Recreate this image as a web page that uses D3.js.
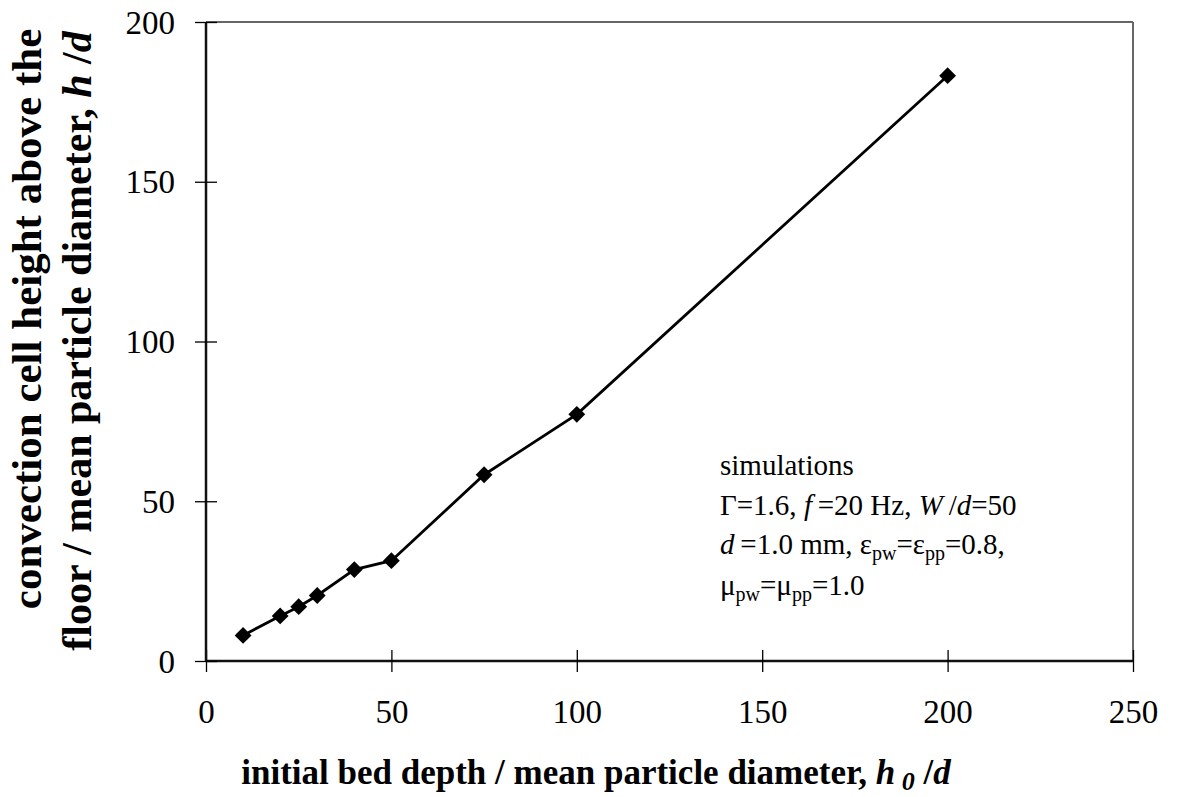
<!DOCTYPE html>
<html>
<head>
<meta charset="utf-8">
<script src="https://cdn.jsdelivr.net/npm/d3@7"></script>
<style>
  body { margin: 0; background: #fff; }
  svg text { font-family: "Liberation Serif", "Times New Roman", serif; fill: #000; }
</style>
</head>
<body>
<svg id="chart"></svg>
<script>
// data
var bedDepth = [10, 20, 25, 30, 40, 50, 75, 100, 200];
var cellHeight = [8, 14.1, 17, 20.5, 28.6, 31.4, 58.3, 77.2, 183.2];
var xTicks = [0, 50, 100, 150, 200, 250];
var yTicks = [0, 50, 100, 150, 200];
var noteLines = ["simulations"];

var width = 1179;
var height = 797;
var mLeft = 206, mRight = 1133, mTop = 22, mBottom = 661;

var svg = d3.select("#chart")
  .attr("width", width)
  .attr("height", height);

var xScale = d3.scaleLinear().domain([0, 250]).range([mLeft, mRight]);
var yScale = d3.scaleLinear().domain([0, 200]).range([mBottom, mTop]);

// frame: top and right lighter
svg.append("line")
  .attr("x1", mLeft).attr("x2", mRight).attr("y1", mTop).attr("y2", mTop)
  .attr("stroke", "#666").attr("stroke-width", 2);
svg.append("line")
  .attr("x1", mRight).attr("x2", mRight).attr("y1", mTop).attr("y2", mBottom)
  .attr("stroke", "#666").attr("stroke-width", 2);

// axes
var xAxis = svg.append("g")
  .attr("transform", "translate(0," + mBottom + ")")
  .call(d3.axisBottom(xScale).tickValues(xTicks).tickSize(11).tickPadding(20).tickFormat(d3.format("d")));
var yAxis = svg.append("g")
  .attr("transform", "translate(" + mLeft + ",0)")
  .call(d3.axisLeft(yScale).tickValues(yTicks).tickSize(11).tickPadding(20).tickFormat(d3.format("d")));

// ticks cross the axis line
xAxis.selectAll(".tick line").attr("y1", -11).attr("stroke", "#000").attr("stroke-width", 1.3);
yAxis.selectAll(".tick line").attr("x1", 11).attr("stroke", "#000").attr("stroke-width", 1.3);
xAxis.select(".domain").attr("stroke", "#111").attr("stroke-width", 2.5).attr("d", "M" + mLeft + ",0H" + mRight);
yAxis.select(".domain").attr("stroke", "#111").attr("stroke-width", 2.5).attr("d", "M0," + mTop + "V" + mBottom);
[xAxis, yAxis].forEach(function(g) {
  g.selectAll(".tick text")
    .style("font-family", "Liberation Serif, serif")
    .style("font-size", "33px")
    .attr("fill", "#000");
});
xAxis.selectAll(".tick text").attr("dy", "0.95em");
yAxis.selectAll(".tick text").attr("dy", "0.34em");

// series
var pts = bedDepth.map((d, i) => [d, cellHeight[i]]);
svg.append("path")
  .datum(pts)
  .attr("fill", "none")
  .attr("stroke", "#000")
  .attr("stroke-width", 2.8)
  .attr("d", d3.line().x(d => xScale(d[0])).y(d => yScale(d[1])));

svg.selectAll("path.marker")
  .data(pts)
  .enter()
    .append("path")
    .attr("class", "marker")
    .attr("transform", d => "translate(" + xScale(d[0]) + "," + yScale(d[1]) + ")")
    .attr("d", d3.symbol().type(d3.symbolDiamond2).size(180))
    .attr("fill", "#000");

// annotation
var note = svg.append("text").attr("x", 720).attr("y", 475).style("font-size", "29px");
note.append("tspan").attr("x", 720).text(noteLines[0]);

var l2 = svg.append("text").attr("x", 720).attr("y", 515).style("font-size", "29px");
l2.append("tspan").text("\u0393=1.6, ");
l2.append("tspan").style("font-style", "italic").text("f");
l2.append("tspan").text("\u2009=20 Hz, ");
l2.append("tspan").style("font-style", "italic").text("W");
l2.append("tspan").text("\u2009/");
l2.append("tspan").style("font-style", "italic").text("d");
l2.append("tspan").text("=50");

var l3 = svg.append("text").attr("x", 720).attr("y", 554).style("font-size", "29px");
l3.append("tspan").style("font-style", "italic").text("d");
l3.append("tspan").text("\u2009=1.0 mm, \u03b5");
l3.append("tspan").attr("dy", 6).style("font-size", "20px").text("pw");
l3.append("tspan").attr("dy", -6).text("=\u03b5");
l3.append("tspan").attr("dy", 6).style("font-size", "20px").text("pp");
l3.append("tspan").attr("dy", -6).text("=0.8,");

var l4 = svg.append("text").attr("x", 720).attr("y", 595).style("font-size", "29px");
l4.append("tspan").text("\u03bc");
l4.append("tspan").attr("dy", 6).style("font-size", "20px").text("pw");
l4.append("tspan").attr("dy", -6).text("=\u03bc");
l4.append("tspan").attr("dy", 6).style("font-size", "20px").text("pp");
l4.append("tspan").attr("dy", -6).text("=1.0");

// x axis title
var xt = svg.append("text")
  .attr("x", 596)
  .attr("y", 784)
  .attr("text-anchor", "middle")
  .style("font-size", "35px")
  .style("font-weight", "bold");
xt.append("tspan").text("initial bed depth / mean particle diameter, ");
xt.append("tspan").style("font-style", "italic").text("h");
xt.append("tspan").attr("dy", 6).style("font-style", "italic").style("font-size", "26px").text(" 0");
xt.append("tspan").attr("dy", -6).text(" /");
xt.append("tspan").style("font-style", "italic").text("d");

// y axis title, two lines
svg.append("text")
  .attr("transform", "translate(41,319) rotate(-90)")
  .attr("text-anchor", "middle")
  .style("font-size", "43px")
  .style("font-weight", "bold")
  .text("convection cell height above the");
var yt2 = svg.append("text")
  .attr("transform", "translate(91,341) rotate(-90)")
  .attr("text-anchor", "middle")
  .style("font-size", "42px")
  .style("font-weight", "bold");
yt2.append("tspan").text("floor / mean particle diameter, ");
yt2.append("tspan").style("font-style", "italic").text("h");
yt2.append("tspan").text(" /");
yt2.append("tspan").style("font-style", "italic").text("d");
</script>
</body>
</html>
